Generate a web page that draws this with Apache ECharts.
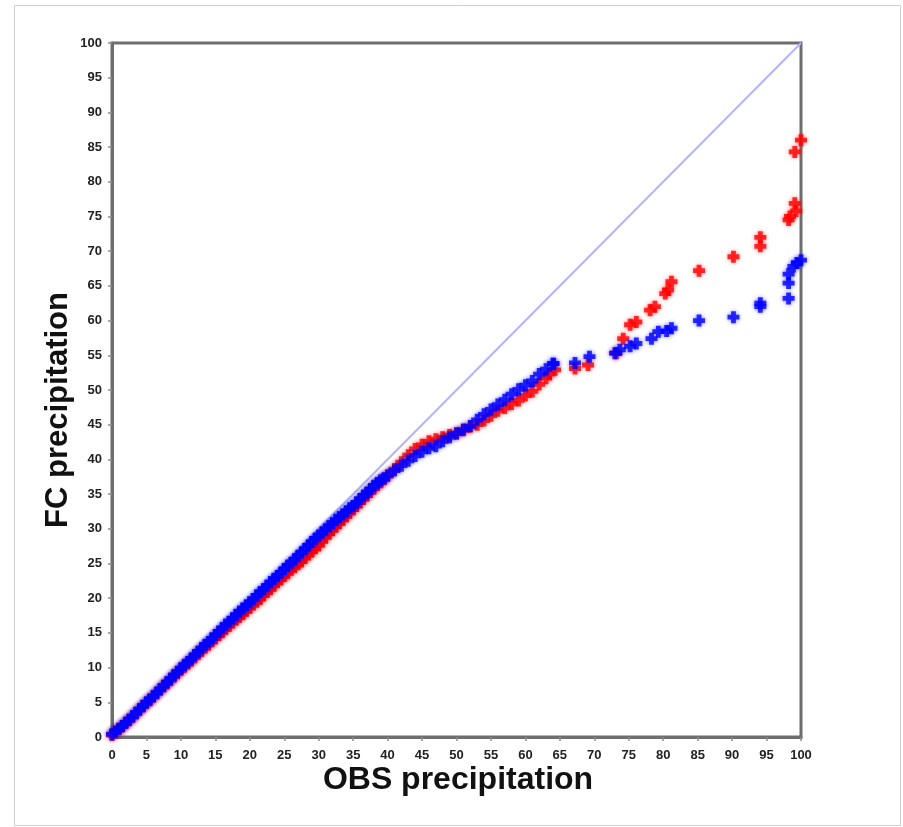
<!DOCTYPE html>
<html>
<head>
<meta charset="utf-8">
<script src="https://cdn.jsdelivr.net/npm/echarts@6/dist/echarts.min.js"></script>
<style>
html,body{margin:0;padding:0;background:#fff;}
#chart{width:903px;height:827px;}
</style>
</head>
<body>
<div id="chart"></div>
<script>
// Axis ticks
const xTicks = [0,5,10,15,20,25,30,35,40,45,50,55,60,65,70,75,80,85,90,95,100];
const yTicks = [0,5,10,15,20,25,30,35,40,45,50,55,60,65,70,75,80,85,90,95,100];

// Red series (OBS, FC)
const redObs = [0,0.5,1,1.5,2,2.5,3,3.5,4,4.5,5,5.5,6,6.5,7,7.5,8,8.5,9,9.5,10,10.5,11,11.5,12,12.5,13,13.5,14,14.5,15,15.5,16,16.5,17,17.5,18,18.5,19,19.5,20,20.5,21,21.5,22,22.5,23,23.5,24,24.5,25,25.5,26,26.5,27,27.5,28,28.5,29,29.5,30,30.5,31,31.5,32,32.5,33,33.5,34,34.5,35,35.5,36,36.5,37,37.5,38,38.5,39,39.5,40,
  41,42,43,44,45,46,47,48,49,50,51,52,53,54,55,56,57,58,59,60,61,62,63,63.5,64.3,
  67.2,69.1,73.2,74.2,75.2,76.1,78.1,78.8,80.3,80.7,81.2,85.2,90.2,94.1,94.1,98.2,98.4,99.1,99.3,99.1,100];
const redFc = [0.3,0.7,1.1,1.5,2.0,2.4,2.9,3.4,3.9,4.4,4.9,5.3,5.8,6.3,6.8,7.3,7.7,8.2,8.7,9.2,9.7,10.1,10.6,11.0,11.5,12.0,12.4,12.9,13.3,13.8,14.2,14.7,15.1,15.6,16.0,16.5,16.9,17.3,17.7,18.2,18.6,19.1,19.5,19.9,20.4,20.9,21.3,21.8,22.3,22.7,23.2,23.6,24.1,24.5,24.9,25.3,25.8,26.3,26.7,27.2,27.6,28.2,28.8,29.3,29.8,30.3,30.8,31.3,31.8,32.3,32.8,33.3,33.8,34.3,34.8,35.3,35.8,36.3,36.7,37.2,37.6,
  38.6,39.6,40.6,41.5,42.1,42.6,42.9,43.2,43.5,43.8,44.2,44.7,45.0,45.6,46.3,47.0,47.4,48.0,48.5,49.2,49.8,50.8,51.7,52.3,52.9,
  53.1,53.6,55.3,57.4,59.4,59.8,61.5,62.0,63.9,64.4,65.6,67.2,69.2,72.0,70.7,74.5,75.0,76.9,75.8,84.3,86.0];

// Blue series (OBS, FC)
const blueObs = [0,0.5,1,1.5,2,2.5,3,3.5,4,4.5,5,5.5,6,6.5,7,7.5,8,8.5,9,9.5,10,10.5,11,11.5,12,12.5,13,13.5,14,14.5,15,15.5,16,16.5,17,17.5,18,18.5,19,19.5,20,20.5,21,21.5,22,22.5,23,23.5,24,24.5,25,25.5,26,26.5,27,27.5,28,28.5,29,29.5,30,30.5,31,31.5,32,32.5,33,33.5,34,34.5,35,35.5,36,36.5,37,37.5,38,38.5,39,39.5,40,
  41,42,43,44,45,46,47,48,49,50,51,52,53,54,55,56,57,58,59,60,61,62,63,64,
  64.1,67.2,69.3,73.0,73.7,75.2,76.1,78.3,79.3,80.5,81.2,85.2,90.2,94.1,94.1,98.2,98.2,98.2,98.9,99.4,100];
const blueFc = [0.4,0.8,1.2,1.6,2.1,2.5,3.0,3.5,4.0,4.5,5.0,5.4,5.9,6.4,6.9,7.4,7.9,8.4,8.9,9.4,9.9,10.4,10.8,11.3,11.8,12.3,12.8,13.3,13.7,14.2,14.7,15.2,15.7,16.2,16.6,17.1,17.6,18.1,18.5,19.0,19.4,19.9,20.4,20.9,21.3,21.8,22.3,22.8,23.2,23.7,24.2,24.7,25.1,25.6,26.1,26.6,27.1,27.6,28.1,28.6,29.0,29.5,29.9,30.4,30.8,31.3,31.7,32.1,32.5,33.0,33.3,33.8,34.3,34.8,35.2,35.7,36.2,36.6,37.0,37.3,37.7,
  38.4,39.1,39.8,40.5,41.1,41.6,41.9,42.6,43.2,43.7,44.3,44.8,45.7,46.5,47.2,47.9,48.6,49.4,50.1,50.7,51.3,52.3,53.0,53.8,
  53.8,53.9,54.8,55.3,55.8,56.3,56.7,57.4,58.4,58.5,58.9,60.0,60.5,62.5,62.0,63.2,65.4,66.7,67.8,68.3,68.7];

const diagX = [0,100];
const diagY = [0,100];

const plus = 'path://M3,0h4v3h3v4h-3v3h-4v-3h-3v-4h3z';

function pairs(xs, ys){ return xs.map((v,i)=>[v, ys[i]]); }

const chart = echarts.init(document.getElementById('chart'), null, {renderer:'canvas'});
const axisCommon = {
  type:'value', min:0, max:100, interval:5,
  axisLine:{show:true, lineStyle:{color:'#6e6e6e', width:3}},
  axisTick:{show:true, inside:false, length:4, lineStyle:{color:'#8a8a8a', width:1.5}},
  splitLine:{show:false},
  axisLabel:{color:'#222', fontSize:13, fontWeight:'bold', fontFamily:'Liberation Sans, Arial, sans-serif'}
};
chart.setOption({
  animation:false,
  backgroundColor:'#fff',
  grid:{left:112, top:43, right:102, bottom:90, show:true, borderColor:'#6e6e6e', borderWidth:3, backgroundColor:'transparent'},
  xAxis:Object.assign({}, axisCommon, {axisLabel:Object.assign({}, axisCommon.axisLabel, {margin:12, formatter:v=>xTicks.includes(v)?String(v):''})}),
  yAxis:Object.assign({}, axisCommon, {axisLabel:Object.assign({}, axisCommon.axisLabel, {margin:10, formatter:v=>yTicks.includes(v)?String(v):''})}),
  graphic:[
    {type:'rect', shape:{x:14.5,y:5.5,width:886,height:820}, style:{fill:'none', stroke:'#cfcfcf', lineWidth:1}, silent:true},
    {type:'text', x:58, y:410, rotation:Math.PI/2, style:{text:'FC precipitation', fill:'#111', font:'bold 31px "Liberation Sans", Arial, sans-serif', textAlign:'center', textVerticalAlign:'middle'}},
    {type:'text', x:458, y:780, style:{text:'OBS precipitation', fill:'#111', font:'bold 32px "Liberation Sans", Arial, sans-serif', textAlign:'center', textVerticalAlign:'middle'}}
  ],
  series:[
    {type:'line', data:pairs(diagX, diagY), symbol:'none', lineStyle:{color:'#b3b3ff', width:2}, z:1},
    {type:'scatter', data:pairs(redObs, redFc), symbol:plus, symbolSize:12, itemStyle:{color:'#ff0000', shadowBlur:4, shadowColor:'rgba(255,0,0,0.6)'}, z:2},
    {type:'scatter', data:pairs(blueObs, blueFc), symbol:plus, symbolSize:12, itemStyle:{color:'#0000ff', shadowBlur:4, shadowColor:'rgba(0,0,255,0.6)'}, z:3}
  ]
});
</script>
</body>
</html>
